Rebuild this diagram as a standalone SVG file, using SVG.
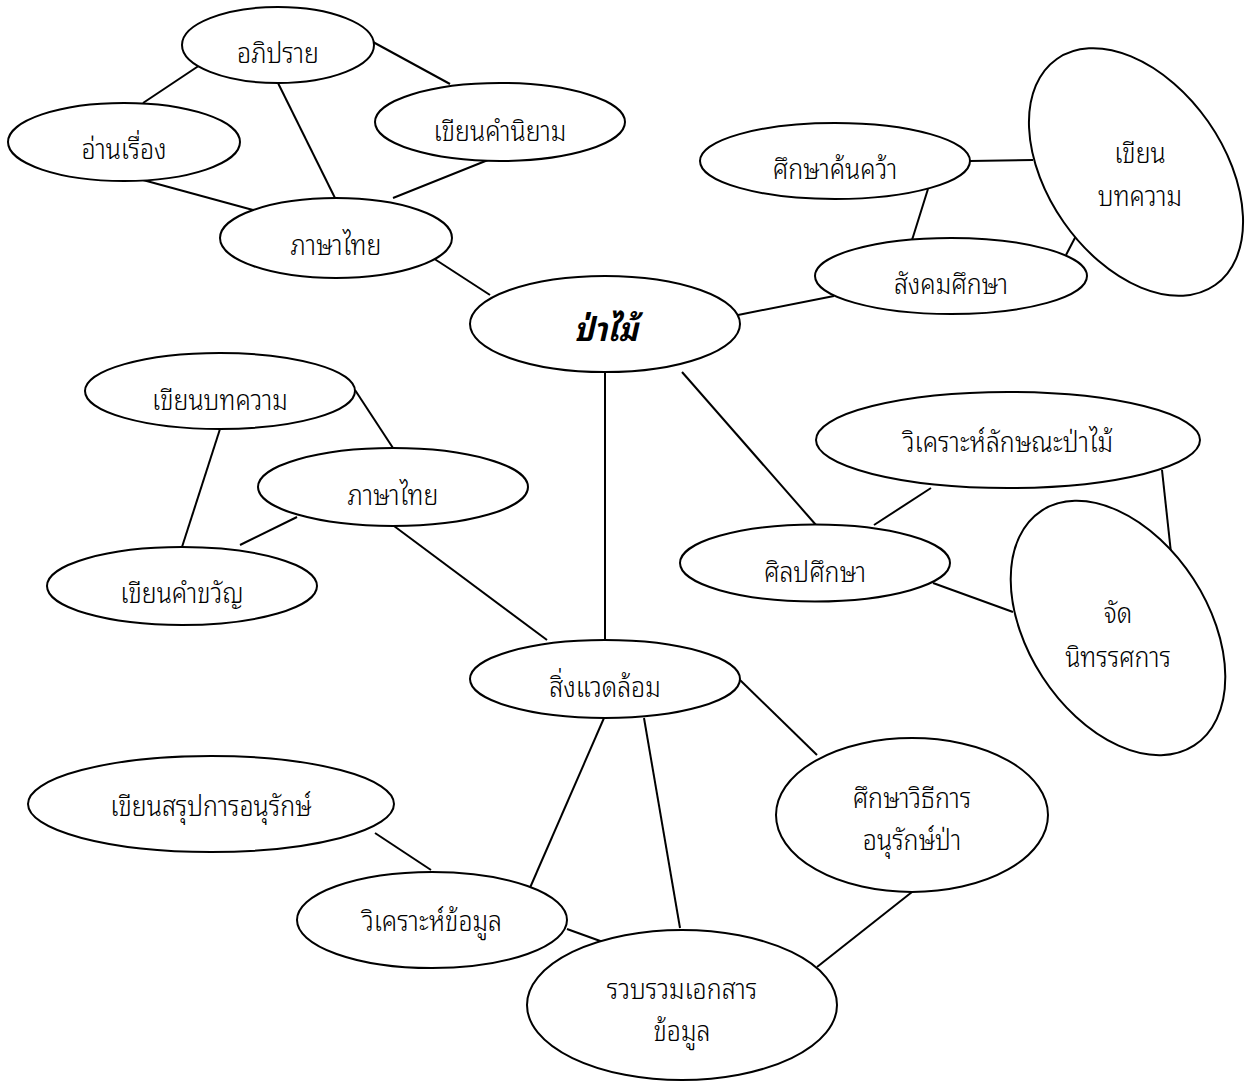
<svg xmlns="http://www.w3.org/2000/svg" width="1245" height="1083" viewBox="0 0 1245 1083">
<style>
.n ellipse{fill:#fff;stroke:#000;stroke-width:2}
.n text{font-family:"Noto Sans Thai Looped","Noto Sans","DejaVu Sans",sans-serif;font-size:25px;font-weight:300;fill:#000;text-anchor:middle;dominant-baseline:central}
#edges line{stroke:#000;stroke-width:2}
</style>
<rect width="1245" height="1083" fill="#fff"/>
<g id="edges">
<line x1="200" y1="65" x2="143" y2="103"/>
<line x1="373" y1="42" x2="450" y2="84"/>
<line x1="278" y1="83" x2="335" y2="198"/>
<line x1="143" y1="180" x2="253" y2="210"/>
<line x1="488" y1="160" x2="393" y2="198"/>
<line x1="433" y1="258" x2="490" y2="295"/>
<line x1="970" y1="161" x2="1033" y2="160"/>
<line x1="928" y1="189" x2="912" y2="240"/>
<line x1="1078" y1="232" x2="1066" y2="255"/>
<line x1="738" y1="315" x2="834" y2="296"/>
<line x1="605" y1="372" x2="605" y2="640"/>
<line x1="682" y1="372" x2="816" y2="525"/>
<line x1="355" y1="390" x2="393" y2="448"/>
<line x1="220" y1="429" x2="182" y2="547"/>
<line x1="297" y1="517" x2="240" y2="545"/>
<line x1="394" y1="526" x2="547" y2="640"/>
<line x1="931" y1="488" x2="874" y2="525"/>
<line x1="1162" y1="470" x2="1172" y2="562"/>
<line x1="933" y1="583" x2="1013" y2="612"/>
<line x1="740" y1="680" x2="817" y2="755"/>
<line x1="604" y1="718" x2="529" y2="890"/>
<line x1="644" y1="718" x2="680" y2="928"/>
<line x1="375" y1="833" x2="431" y2="870"/>
<line x1="567" y1="929" x2="603" y2="942"/>
<line x1="912" y1="892" x2="817" y2="967"/>
</g>
<g id="n-apiprai" class="n"><ellipse cx="278" cy="45" rx="96" ry="38"/><text transform="translate(278 50) scale(1 1.12)">อภิปราย</text></g>
<g id="n-anrueang" class="n"><ellipse cx="124" cy="142" rx="116" ry="39"/><text transform="translate(124 146) scale(1 1.12)">อ่านเรื่อง</text></g>
<g id="n-niyam" class="n"><ellipse cx="500" cy="122" rx="125" ry="39"/><text transform="translate(500 128) scale(1 1.12)">เขียนคำนิยาม</text></g>
<g id="n-thai1" class="n"><ellipse cx="336" cy="238" rx="116" ry="40"/><text transform="translate(336 242) scale(1 1.12)">ภาษาไทย</text></g>
<g id="n-center" class="n"><ellipse cx="605" cy="324" rx="135" ry="48"/><text transform="translate(606 326) scale(1 1.1)" style="font-weight:bold;font-style:italic;font-size:30px">ป่าไม้</text></g>
<g id="n-khonkhwa" class="n"><ellipse cx="835" cy="161" rx="135" ry="38"/><text transform="translate(835 166) scale(1 1.12)">ศึกษาค้นคว้า</text></g>
<g id="n-bothkwam1" class="n"><ellipse cx="1136" cy="172" rx="88" ry="138" transform="rotate(-35 1136 172)"/><text transform="translate(1140 150) scale(1 1.12)">เขียน</text><text transform="translate(1140 193) scale(1 1.12)">บทความ</text></g>
<g id="n-sangkhom" class="n"><ellipse cx="951" cy="276" rx="136" ry="38"/><text transform="translate(951 281) scale(1 1.12)">สังคมศึกษา</text></g>
<g id="n-bothkwam2" class="n"><ellipse cx="220" cy="391" rx="135" ry="38"/><text transform="translate(220 397) scale(1 1.12)">เขียนบทความ</text></g>
<g id="n-thai2" class="n"><ellipse cx="393" cy="487" rx="135" ry="39"/><text transform="translate(393 492) scale(1 1.12)">ภาษาไทย</text></g>
<g id="n-khamkhwan" class="n"><ellipse cx="182" cy="586" rx="135" ry="39"/><text transform="translate(182 590) scale(1 1.12)">เขียนคำขวัญ</text></g>
<g id="n-wikhro1" class="n"><ellipse cx="1008" cy="440" rx="192" ry="48"/><text transform="translate(1008 439) scale(1 1.12)">วิเคราะห์ลักษณะป่าไม้</text></g>
<g id="n-sinlapa" class="n"><ellipse cx="815" cy="563" rx="135" ry="38.5"/><text transform="translate(815 569) scale(1 1.12)">ศิลปศึกษา</text></g>
<g id="n-nithat" class="n"><ellipse cx="1118" cy="628" rx="90" ry="140" transform="rotate(-33 1118 628)"/><text transform="translate(1118 610) scale(1 1.12)">จัด</text><text transform="translate(1118 654) scale(1 1.12)">นิทรรศการ</text></g>
<g id="n-sinwaet" class="n"><ellipse cx="605" cy="679" rx="135" ry="39"/><text transform="translate(605 684) scale(1 1.12)">สิ่งแวดล้อม</text></g>
<g id="n-sarup" class="n"><ellipse cx="211" cy="804" rx="183" ry="48"/><text transform="translate(211 803) scale(1 1.12)">เขียนสรุปการอนุรักษ์</text></g>
<g id="n-withikan" class="n"><ellipse cx="912" cy="815" rx="136" ry="77"/><text transform="translate(912 795) scale(1 1.12)">ศึกษาวิธีการ</text><text transform="translate(912 837) scale(1 1.12)">อนุรักษ์ป่า</text></g>
<g id="n-wikhro2" class="n"><ellipse cx="432" cy="920" rx="135" ry="48"/><text transform="translate(432 918) scale(1 1.12)">วิเคราะห์ข้อมูล</text></g>
<g id="n-ruapruam" class="n"><ellipse cx="682" cy="1005" rx="155" ry="75"/><text transform="translate(682 986) scale(1 1.12)">รวบรวมเอกสาร</text><text transform="translate(682 1028) scale(1 1.12)">ข้อมูล</text></g>
</svg>
